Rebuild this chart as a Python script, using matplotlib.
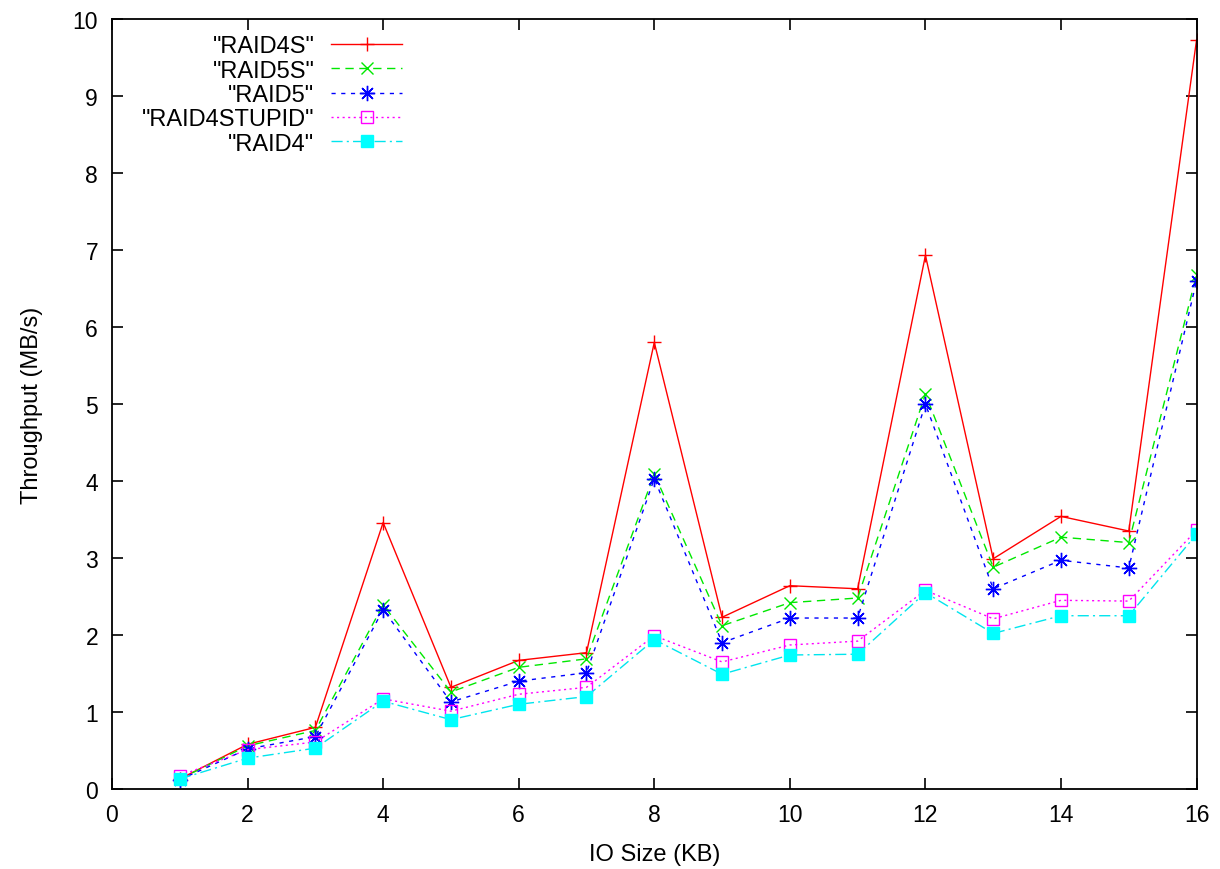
import matplotlib

matplotlib.use("Agg")
import matplotlib.pyplot as plt

plt.rcParams["font.family"] = ["Liberation Sans", "DejaVu Sans"]

io_size = [1, 2, 3, 4, 5, 6, 7, 8, 9, 10, 11, 12, 13, 14, 15, 16]

raid4s = [0.13, 0.58, 0.80, 3.46, 1.32, 1.67, 1.77, 5.80, 2.23, 2.64, 2.60, 6.93, 2.99, 3.54, 3.35, 9.73]
raid5s = [0.13, 0.56, 0.76, 2.39, 1.26, 1.58, 1.69, 4.09, 2.12, 2.42, 2.48, 5.13, 2.88, 3.27, 3.20, 6.68]
raid5 = [0.12, 0.52, 0.68, 2.33, 1.13, 1.40, 1.51, 4.03, 1.90, 2.22, 2.22, 5.00, 2.60, 2.97, 2.87, 6.60]
raid4stupid = [0.17, 0.51, 0.61, 1.17, 1.01, 1.23, 1.32, 1.99, 1.65, 1.87, 1.92, 2.58, 2.21, 2.45, 2.44, 3.36]
raid4 = [0.13, 0.40, 0.53, 1.14, 0.90, 1.10, 1.20, 1.94, 1.49, 1.74, 1.75, 2.55, 2.02, 2.25, 2.25, 3.31]

x_ticks = [0, 2, 4, 6, 8, 10, 12, 14, 16]
y_ticks = [0, 1, 2, 3, 4, 5, 6, 7, 8, 9, 10]

fig = plt.figure(figsize=(12.2, 8.7), dpi=100)
ax = fig.add_axes([0.0918, 0.092, 0.889, 0.885])

lw = 1.0
ax.plot(io_size, raid4s, color="#ff0000", linestyle="-", linewidth=lw,
        marker="+", markersize=10, markeredgewidth=1.0, label='"RAID4S"')
ax.plot(io_size, raid5s, color="#00e800", linestyle=(0, (6, 4)), linewidth=lw,
        marker="x", markersize=9, markeredgewidth=1.0, label='"RAID5S"')
ax.plot(io_size, raid5, color="#0000ff", linestyle=(0, (3, 4)), linewidth=lw,
        marker=(8, 2, 0), markersize=11, markeredgewidth=1.0, label='"RAID5"')
ax.plot(io_size, raid4stupid, color="#ff00ff", linestyle=(0, (1.5, 2.5)), linewidth=lw,
        marker="s", markersize=9, markerfacecolor="none", markeredgewidth=1.0,
        label='"RAID4STUPID"')
ax.plot(io_size, raid4, color="#00e5ee", linestyle=(0, (8, 3, 1.5, 3)), linewidth=lw,
        marker="s", markersize=9, markerfacecolor="#00ffff", markeredgecolor="#00ffff",
        label='"RAID4"')

ax.set_xlim(0, 16)
ax.set_ylim(0, 10)
ax.set_xticks(x_ticks)
ax.set_yticks(y_ticks)
ax.tick_params(direction="in", length=8, width=1.2, top=True, right=True,
               labelsize=16.5, pad=10, colors="black")
for spine in ax.spines.values():
    spine.set_linewidth(1.3)

ax.set_xlabel("IO Size (KB)", fontsize=17, labelpad=12)
ax.set_ylabel("Throughput (MB/s)", fontsize=17, labelpad=21)

leg = ax.legend(loc="upper right", bbox_to_anchor=(0.267, 0.979), markerfirst=False,
                frameon=False, fontsize=17, handlelength=2.97, handletextpad=0.72,
                labelspacing=0.1, borderaxespad=0, borderpad=0)

fig.savefig("out.png", dpi=100)
